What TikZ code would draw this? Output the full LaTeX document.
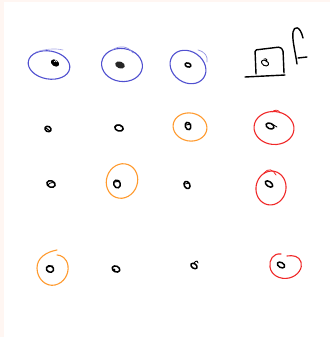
\documentclass[tikz,border=0pt]{standalone}
\usepackage{tikz}
\definecolor{skblue}{HTML}{5050D0}
\definecolor{skorange}{HTML}{FF9A2E}
\definecolor{skred}{HTML}{F02828}
\definecolor{edge}{HTML}{FFF6F2}
\begin{document}
\begin{tikzpicture}[x=1pt,y=-1pt,line cap=round,line join=round,
  ring/.style={line width=1.1pt},
  dot/.style={draw=black,line width=1.5pt},
  ink/.style={draw=black,line width=1.4pt}]
\useasboundingbox (0,0) rectangle (330,337);
\fill[white] (0,0) rectangle (330,337);
\fill[edge] (0,0) rectangle (4,337);
\fill[edge] (0,0) rectangle (330,2);
% row 1 blue
\draw[ring,skblue,rotate around={-10:(49,65)}] (49,65) ellipse (21 and 14);
\draw[skblue!50,line width=0.6pt] (36,52) .. controls (45,49) and (55,48) .. (63,50);
\fill[black,rotate around={-35:(55,63)}] (55,63) ellipse (4.5 and 3.2);
\draw[white,line width=0.6pt] (54,62) .. controls (55,60) and (57,60) .. (57,62);
\draw[ring,skblue,rotate around={-8:(122,65)}] (122,65) ellipse (20.5 and 16.5);
\draw[skblue!60,line width=0.7pt] (112,50) .. controls (120,45) and (128,46) .. (133,53);
\fill[black!85,rotate around={-20:(120,65)}] (120,65) ellipse (5 and 3.4);
\draw[ring,skblue,rotate around={-35:(188,67)}] (188,67) ellipse (19 and 15.5);
\draw[skblue!60,line width=0.7pt] (198,50) .. controls (205,52) and (208,56) .. (207,62);
\draw[dot,rotate around={-20:(188,65)}] (188,65) ellipse (3 and 2);
% laptop
\draw[ink,rounded corners=1.5pt] (256,74) -- (255,50) -- (280,47) -- (283,50) -- (284,73);
\draw[ink] (245,77) -- (285,75);
\draw[draw=black,line width=1pt,rotate around={-30:(265,63)}] (265,63) ellipse (3.8 and 2.6);
\draw[draw=black,line width=0.9pt] (264,59) .. controls (267,58) and (268,61) .. (266,62);
% hook
\draw[ink] (297,64) .. controls (295,50) and (292,40) .. (293,32) .. controls (294,26) and (300,25) .. (303,38);
\draw[ink] (298,58) -- (307,57);
% row 2
\draw[dot,rotate around={-30:(48,129)}] (48,129) ellipse (3.2 and 2.6);
\draw[black,line width=1pt] (46,128) -- (50,131);
\draw[dot,rotate around={-15:(119,128)}] (119,128) ellipse (4.3 and 3);
\draw[black,line width=0.9pt] (116,126) .. controls (119,124) and (122,125) .. (121,127);
\draw[ring,skorange,rotate around={-10:(190,127)}] (190,127) ellipse (17 and 14);
\draw[dot,rotate around={-70:(188,126)}] (188,126) ellipse (3.8 and 2.7);
\draw[black,line width=0.9pt] (186,125) -- (191,124);
\draw[ring,skred,rotate around={-5:(274,128)}] (274,128) ellipse (20 and 16.5);
\draw[skred,line width=0.8pt] (272,112) .. controls (275,109) and (279,110) .. (280,113);
\draw[dot,rotate around={-25:(270,126)}] (270,126) ellipse (4.2 and 2.7);
\draw[black,line width=0.8pt] (272,124) -- (277,127);
% row 3
\draw[dot,rotate around={-20:(51,184)}] (51,184) ellipse (4.3 and 3.2);
\draw[black,line width=0.9pt] (48,185) .. controls (50,182) and (54,182) .. (55,184);
\draw[ring,skorange,rotate around={-20:(122,181)}] (122,181) ellipse (15.5 and 17.5);
\draw[dot,rotate around={-70:(117,184)}] (117,184) ellipse (4 and 3.2);
\draw[black,line width=0.9pt] (115,182) -- (120,181);
\draw[dot,rotate around={-60:(187,185)}] (187,185) ellipse (3.8 and 2.8);
\draw[black,line width=0.8pt] (185,184) -- (189,183);
\draw[ring,skred,rotate around={-10:(271,188)}] (271,188) ellipse (15 and 17);
\draw[skred,line width=0.8pt] (264,173) .. controls (268,168) and (273,169) .. (276,175);
\draw[dot,rotate around={-35:(269,184)}] (269,184) ellipse (4.3 and 2.4);
% row 4
\draw[ring,skorange] (57,250) .. controls (46,252) and (37,258) .. (37,268) .. controls (37,279) and (46,287) .. (55,285) .. controls (64,283) and (69,274) .. (68,266) .. controls (67,258) and (61,255) .. (57,255);
\draw[dot,rotate around={-25:(50,269)}] (50,269) ellipse (3.7 and 3.2);
\draw[black,line width=0.9pt] (47,267) -- (53,266);
\draw[dot,rotate around={-25:(116,269)}] (116,269) ellipse (4 and 2.9);
\fill[black] (114,270) circle (1.6);
\draw[dot,rotate around={-35:(194,266)}] (194,266) ellipse (3.5 and 2.3);
\draw[black,line width=0.9pt] (194,263) .. controls (196,260) and (199,261) .. (198,263);
\draw[ring,skred] (281,254) .. controls (273,253) and (269,260) .. (270,267) .. controls (271,275) and (280,280) .. (289,278) .. controls (298,276) and (303,268) .. (301,262) .. controls (299,256) and (293,255) .. (287,256);
\draw[dot,rotate around={-30:(281,265)}] (281,265) ellipse (4 and 2.5);
\end{tikzpicture}
\end{document}
